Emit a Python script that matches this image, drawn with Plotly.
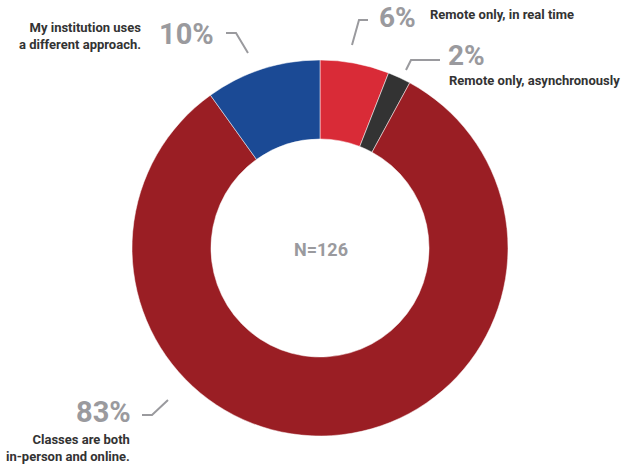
import plotly.graph_objects as go

W, H = 623, 466

# Survey shares (percent), clockwise from 12 o'clock
categories = [
    "Remote only, in real time",
    "Remote only, asynchronously",
    "Classes are both in-person and online.",
    "My institution uses a different approach.",
]
shares = [6, 2, 83, 10]
pct_labels = ["6%", "2%", "83%", "10%"]
sample_note = "N=126"
colors = ["#D92B37", "#333333", "#9A1E24", "#1B4A95"]

GRAY = "#9A9A9E"
DARK = "#333333"
FONT = "Roboto"


def px(x):
    return x / W


def py(y):
    return 1 - y / H


cx, cy, r = 320, 248, 188

fig = go.Figure(
    go.Pie(
        labels=categories,
        values=shares,
        sort=False,
        direction="clockwise",
        rotation=0,
        hole=0.58,
        marker=dict(colors=colors, line=dict(color="#ffffff", width=0.5)),
        textinfo="none",
        hoverinfo="label+percent",
        showlegend=False,
        domain=dict(x=[px(cx - r), px(cx + r)], y=[py(cy + r), py(cy - r)]),
    )
)

annotations = []


def add_text(text, x, y, size, color, xanchor="center", yanchor="middle", align="center"):
    annotations.append(
        dict(
            text=text, x=px(x), y=py(y), xref="paper", yref="paper",
            showarrow=False, xanchor=xanchor, yanchor=yanchor, align=align,
            borderpad=0,
            font=dict(family=FONT, size=size, color=color, weight="bold"),
        )
    )


# Percent callouts
add_text(pct_labels[0], 397, 0, 28, GRAY, yanchor="top")
add_text(pct_labels[1], 466, 56, 28, GRAY)
add_text(pct_labels[2], 103, 412, 29, GRAY)
add_text(pct_labels[3], 186, 34, 29, GRAY)

# Category labels
add_text(categories[0], 429, 15, 13, DARK, xanchor="left")
add_text(categories[1], 448, 80, 13, DARK, xanchor="left")
add_text("Classes are both<br>in-person and online.", 131, 448, 13, DARK,
         xanchor="right", align="right")
add_text("My institution uses<br>a different approach.", 142, 36, 13, DARK,
         xanchor="right", align="right")

# Center note
add_text(sample_note, 321, 250, 18, GRAY)

# Leader lines
leaders = [
    [(368, 20), (359, 20), (352, 45)],
    [(440, 60), (411, 60), (406, 70)],
    [(142, 415), (152, 415), (168, 400)],
    [(226, 33), (236, 33), (248, 53)],
]
shapes = []
for pts in leaders:
    path = "M " + " L ".join(f"{px(x):.5f},{py(y):.5f}" for x, y in pts)
    shapes.append(dict(type="path", path=path, xref="paper", yref="paper",
                       line=dict(color=GRAY, width=2)))

fig.update_layout(
    width=W, height=H,
    margin=dict(l=0, r=0, t=0, b=0),
    paper_bgcolor="white", plot_bgcolor="white",
    annotations=annotations, shapes=shapes,
)

fig.write_html("out.html")
